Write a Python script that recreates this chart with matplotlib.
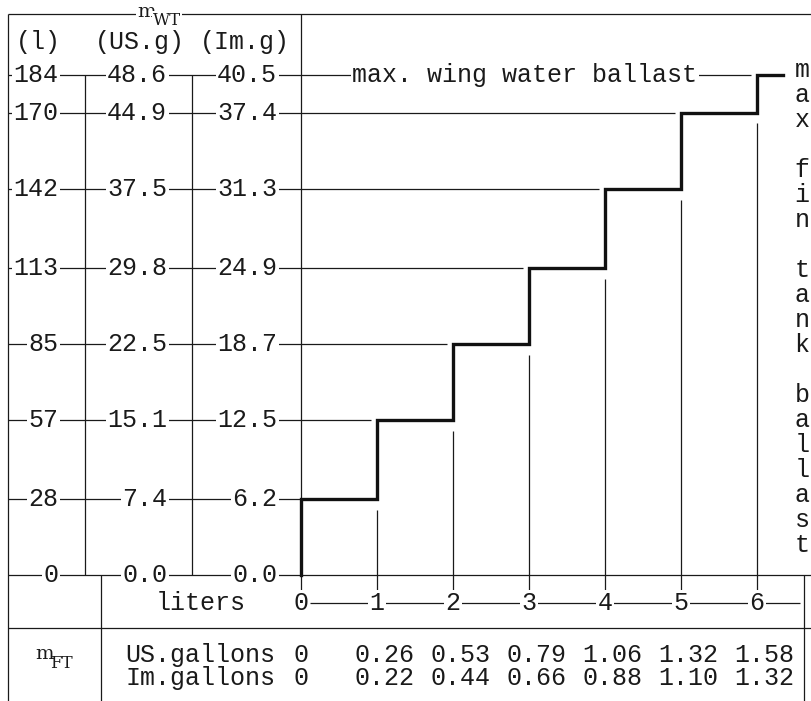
import matplotlib
matplotlib.use("Agg")
import matplotlib.pyplot as plt

# fin tank filling (liters) and the matching max. wing water ballast (liters)
fin_liters = [0, 1, 2, 3, 4, 5, 6]
wing_liters = [28, 57, 85, 113, 142, 170, 184]

# wing ballast scale, three units
wing_levels = [0, 28, 57, 85, 113, 142, 170, 184]
wing_us_gal = ["0.0", "7.4", "15.1", "22.5", "29.8", "37.5", "44.9", "48.6"]
wing_im_gal = ["0.0", "6.2", "12.5", "18.7", "24.9", "31.3", "37.4", "40.5"]

# fin tank in gallons
fin_us_gal = ["0", "0.26", "0.53", "0.79", "1.06", "1.32", "1.58"]
fin_im_gal = ["0", "0.22", "0.44", "0.66", "0.88", "1.10", "1.32"]

side_text = "max fin tank ballast"

FONT = "Liberation Mono"
SERIF = "DejaVu Serif"
FS = 18
INK = "#1a1a1a"

# page layout in pixels -> data units of the one full-page axes
X0, SX = 301, 76.0
Y0, SY = 575, 2.72


def dx(px):
    return (px - X0) / SX


def dy(py):
    return (Y0 - py) / SY


fig = plt.figure(figsize=(8.12, 7.01), dpi=100)
ax = fig.add_axes([0, 0, 1, 1])
ax.set_xlim(dx(0), dx(812))
ax.set_ylim(dy(701), dy(0))
ax.axis("off")

thin = dict(color=INK, lw=0.9)
box = dict(fc="white", ec="none", pad=1.0)


def label(x, y, s, ha="center", size=FS, bg=True, color=INK):
    ax.text(x, y, s, ha=ha, va="center", family=FONT, fontsize=size,
            color=color, bbox=box if bg else None, zorder=5)


# frame
ax.hlines(dy(14), dx(8), dx(812), **thin)
ax.vlines(dx(8), dy(701), dy(14), **thin)
ax.vlines(0, dy(590), dy(14), **thin)
ax.vlines([dx(85), dx(192)], 0, wing_levels[-1], **thin)
ax.hlines(0, dx(8), dx(812), **thin)
ax.hlines(dy(628), dx(8), dx(812), **thin)
ax.vlines(dx(101), dy(701), 0, **thin)
ax.vlines(dx(804), dy(701), 0, **thin)

# header
ax.text(dx(137), dy(12), "m", ha="left", va="center", family=SERIF,
        fontsize=14, color=INK, bbox=box, zorder=5)
ax.text(dx(153), dy(21), "WT", ha="left", va="center", family=SERIF,
        fontsize=12, color=INK, bbox=box, zorder=5)
label(dx(38), dy(42), "(l)", bg=False)
label(dx(140), dy(42), "(US.g)", bg=False)
label(dx(245), dy(42), "(Im.g)", bg=False)

# wing scale rows
for i, lv in enumerate(wing_levels):
    if i == 0:
        end = dx(8)
    elif i == 1:
        end = 0
    else:
        end = fin_liters[i - 1] - 0.08
    ax.hlines(lv, dx(8), end, **thin)
    label(dx(58), lv, str(lv), ha="right")
    label(dx(167), lv, wing_us_gal[i], ha="right")
    label(dx(277), lv, wing_im_gal[i], ha="right")

# thin drop lines from each riser down to the x axis
for i in range(1, len(fin_liters)):
    ax.vlines(fin_liters[i], dy(590), wing_liters[i - 1] - 4, **thin)

# stepped curve
xs = [0] + fin_liters + [fin_liters[-1] + 0.34]
ys = [0] + wing_liters + [wing_liters[-1]]
ax.step(xs, ys, where="post", color="#111111", lw=2.4, zorder=4,
        solid_joinstyle="miter")

label(dx(352), wing_liters[-1], "max. wing water ballast", ha="left")

for k, ch in enumerate(side_text):
    if ch != " ":
        label(dx(802), dy(70 + 25 * k), ch, bg=False)

# liters row
ax.hlines(dy(603), dx(310), dx(800), **thin)
label(dx(201), dy(603), "liters", bg=False)
for f in fin_liters:
    label(f, dy(603), str(f))

# gallons rows
ax.text(dx(35), dy(654), "m", ha="left", va="center", family=SERIF,
        fontsize=14, color=INK)
ax.text(dx(50), dy(664), "FT", ha="left", va="center", family=SERIF,
        fontsize=12, color=INK)
label(dx(125), dy(655), "US.gallons", ha="left", bg=False)
label(dx(125), dy(678), "Im.gallons", ha="left", bg=False)
for f, us, im in zip(fin_liters, fin_us_gal, fin_im_gal):
    off = 0 if f == 0 else 0.1
    label(f + off, dy(655), us, bg=False)
    label(f + off, dy(678), im, bg=False)

fig.savefig("out.png", dpi=100, facecolor="white")
